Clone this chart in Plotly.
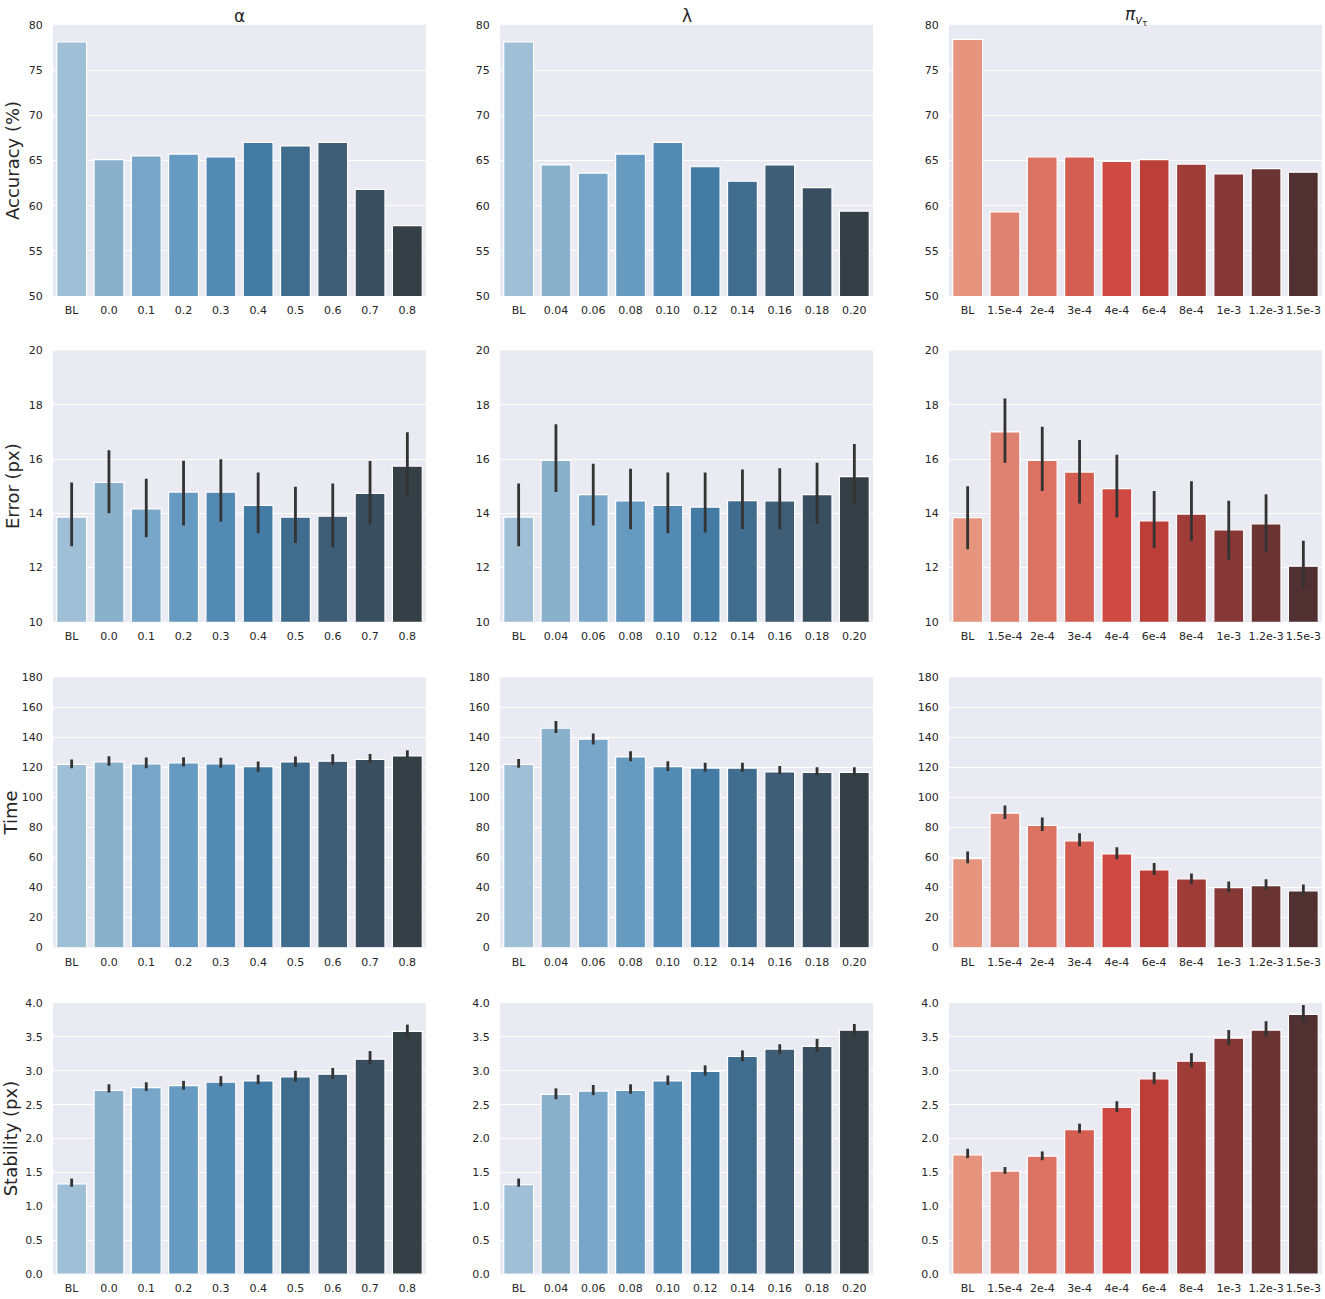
import plotly.graph_objects as go
from plotly.subplots import make_subplots

# ---------------- data ----------------
cats_alpha = ["BL", "0.0", "0.1", "0.2", "0.3", "0.4", "0.5", "0.6", "0.7", "0.8"]
cats_lambda = ["BL", "0.04", "0.06", "0.08", "0.10", "0.12", "0.14", "0.16", "0.18", "0.20"]
cats_pi = ["BL", "1.5e-4", "2e-4", "3e-4", "4e-4", "6e-4", "8e-4", "1e-3", "1.2e-3", "1.5e-3"]

col_titles = ["α", "λ", "<i>π</i><sub><i>v</i><sub>τ</sub></sub>"]
row_titles = ["Accuracy (%)", "Error (px)", "Time", "Stability (px)"]

# Accuracy (no error bars)
acc_alpha = [78.1, 65.1, 65.5, 65.7, 65.4, 67.0, 66.6, 67.0, 61.8, 57.8]
acc_lambda = [78.1, 64.5, 63.6, 65.7, 67.0, 64.3, 62.7, 64.5, 62.0, 59.4]
acc_pi = [78.4, 59.3, 65.4, 65.4, 64.9, 65.1, 64.6, 63.5, 64.1, 63.7]

# Error (px): mean, CI upper, CI lower
err_alpha = [13.86, 15.14, 14.16, 14.78, 14.78, 14.29, 13.86, 13.89, 14.73, 15.74]
err_alpha_hi = [15.13, 16.32, 15.27, 15.94, 15.99, 15.50, 14.98, 15.10, 15.93, 16.99]
err_alpha_lo = [12.78, 14.00, 13.12, 13.55, 13.69, 13.26, 12.90, 12.75, 13.59, 14.62]

err_lambda = [13.86, 15.95, 14.69, 14.46, 14.29, 14.23, 14.47, 14.46, 14.69, 15.35]
err_lambda_hi = [15.10, 17.28, 15.83, 15.64, 15.50, 15.50, 15.61, 15.66, 15.86, 16.55]
err_lambda_lo = [12.78, 14.78, 13.55, 13.41, 13.26, 13.29, 13.42, 13.41, 13.61, 14.31]

err_pi = [13.84, 17.00, 15.95, 15.52, 14.91, 13.72, 13.97, 13.39, 13.61, 12.05]
err_pi_hi = [15.00, 18.23, 17.19, 16.70, 16.16, 14.82, 15.18, 14.46, 14.70, 12.99]
err_pi_lo = [12.67, 15.86, 14.82, 14.36, 13.84, 12.73, 12.99, 12.30, 12.56, 11.24]

# Time
time_alpha = [121.9, 123.6, 122.3, 123.0, 122.3, 120.4, 123.6, 124.1, 125.2, 127.6]
time_alpha_hi = [125.2, 127.4, 126.5, 126.7, 126.3, 123.9, 127.2, 128.7, 128.9, 131.3]
time_alpha_lo = [119.3, 121.0, 119.3, 120.6, 119.7, 117.0, 120.4, 121.5, 122.8, 126.5]

time_lambda = [121.9, 146.0, 138.8, 126.9, 120.4, 119.5, 119.5, 116.9, 116.6, 116.6]
time_lambda_hi = [125.6, 150.8, 142.5, 130.7, 124.1, 123.0, 123.0, 120.8, 120.1, 120.1]
time_lambda_lo = [119.7, 142.9, 135.2, 124.1, 117.5, 117.1, 117.1, 115.3, 114.5, 114.5]

time_pi = [59.2, 89.5, 81.3, 71.0, 62.3, 51.7, 45.6, 39.9, 41.2, 37.7]
time_pi_hi = [64.0, 94.5, 86.6, 76.1, 66.7, 56.3, 49.3, 43.9, 45.4, 41.9]
time_pi_lo = [56.1, 85.5, 77.6, 67.5, 58.8, 48.2, 42.1, 36.8, 38.3, 34.4]

# Stability (px)
stab_alpha = [1.33, 2.71, 2.75, 2.78, 2.83, 2.85, 2.91, 2.95, 3.17, 3.58]
stab_alpha_hi = [1.41, 2.80, 2.83, 2.85, 2.92, 2.94, 3.00, 3.04, 3.29, 3.68]
stab_alpha_lo = [1.29, 2.68, 2.70, 2.72, 2.77, 2.80, 2.84, 2.88, 3.10, 3.49]

stab_lambda = [1.32, 2.65, 2.70, 2.71, 2.85, 2.99, 3.21, 3.32, 3.36, 3.60]
stab_lambda_hi = [1.41, 2.74, 2.79, 2.80, 2.93, 3.08, 3.30, 3.39, 3.47, 3.69]
stab_lambda_lo = [1.29, 2.58, 2.64, 2.66, 2.79, 2.93, 3.14, 3.25, 3.28, 3.51]

stab_pi = [1.76, 1.52, 1.74, 2.13, 2.46, 2.88, 3.14, 3.48, 3.60, 3.83]
stab_pi_hi = [1.85, 1.58, 1.81, 2.22, 2.55, 2.98, 3.26, 3.60, 3.73, 3.97]
stab_pi_lo = [1.71, 1.48, 1.68, 2.08, 2.39, 2.80, 3.05, 3.38, 3.50, 3.72]

# ---------------- styles ----------------
blues = ["#9fbfd6", "#8ab1cc", "#78a6c8", "#669ac0", "#538bb5",
         "#447ba5", "#406c8e", "#3f5e76", "#394e5f", "#343f46"]
reds = ["#e6947e", "#e08271", "#dc7262", "#d55e53", "#ce4a43",
        "#bb3f38", "#a03c38", "#853835", "#6a3433", "#503030"]

W, H = 1325, 1299
col_px = [(53, 426), (500, 873), (949, 1322)]
row_px = [(19, 293), (348, 622), (678, 951), (1007, 1281)]

y_ranges = [(50, 80), (10, 20), (0, 180), (0, 4)]
y_dticks = [5, 2, 20, 0.5]
y_formats = ["d", "d", "d", ".1f"]

cats = [cats_alpha, cats_lambda, cats_pi]
palettes = [blues, blues, reds]

grid = [
    [(acc_alpha, None, None), (acc_lambda, None, None), (acc_pi, None, None)],
    [(err_alpha, err_alpha_hi, err_alpha_lo), (err_lambda, err_lambda_hi, err_lambda_lo),
     (err_pi, err_pi_hi, err_pi_lo)],
    [(time_alpha, time_alpha_hi, time_alpha_lo), (time_lambda, time_lambda_hi, time_lambda_lo),
     (time_pi, time_pi_hi, time_pi_lo)],
    [(stab_alpha, stab_alpha_hi, stab_alpha_lo), (stab_lambda, stab_lambda_hi, stab_lambda_lo),
     (stab_pi, stab_pi_hi, stab_pi_lo)],
]

FONT = "DejaVu Sans"
TICK_COLOR = "#262626"
ERR_COLOR = "#333333"

fig = make_subplots(rows=4, cols=3)

for r in range(4):
    for c in range(3):
        vals, hi, lo = grid[r][c]
        kw = {}
        if hi is not None:
            kw["error_y"] = dict(
                type="data", symmetric=False,
                array=[h - v for h, v in zip(hi, vals)],
                arrayminus=[v - l for v, l in zip(vals, lo)],
                color=ERR_COLOR, thickness=2.8, width=0,
            )
        fig.add_trace(
            go.Bar(
                x=cats[c], y=vals,
                marker=dict(color=palettes[c], line=dict(color="white", width=1.2)),
                showlegend=False, **kw,
            ),
            row=r + 1, col=c + 1,
        )

        idx = r * 3 + c + 1
        xa = "xaxis" if idx == 1 else f"xaxis{idx}"
        ya = "yaxis" if idx == 1 else f"yaxis{idx}"
        x0, x1 = col_px[c]
        y0, y1 = row_px[r]
        fig.layout[xa].update(
            domain=[x0 / W, x1 / W], type="category", range=[-0.5, 9.5],
            showgrid=False, zeroline=False, showline=False,
            ticks="outside", ticklen=4, tickcolor="rgba(0,0,0,0)",
            tickfont=dict(family=FONT, size=11, color=TICK_COLOR),
            tickangle=0, fixedrange=True,
        )
        fig.layout[ya].update(
            domain=[1 - y1 / H, 1 - y0 / H], range=list(y_ranges[r]),
            dtick=y_dticks[r], tick0=0, tickformat=y_formats[r],
            showgrid=True, gridcolor="white", gridwidth=1.2,
            zeroline=False, showline=False,
            ticks="outside", ticklen=7, tickcolor="rgba(0,0,0,0)",
            tickfont=dict(family=FONT, size=11, color=TICK_COLOR),
            fixedrange=True,
        )
        if c == 0:
            fig.layout[ya].update(
                title=dict(text=row_titles[r],
                           font=dict(family=FONT, size=18, color=TICK_COLOR),
                           standoff=4),
            )

for c in range(3):
    x0, x1 = col_px[c]
    fig.add_annotation(
        text=col_titles[c], xref="paper", yref="paper",
        x=(x0 + x1) / 2 / W, y=1 - 10 / H, xanchor="center", yanchor="middle",
        showarrow=False, font=dict(family=FONT, size=17, color=TICK_COLOR),
    )

fig.update_layout(
    width=W, height=H,
    margin=dict(l=0, r=0, t=0, b=0),
    paper_bgcolor="white", plot_bgcolor="#EAEAF2",
    bargap=0.2,
    font=dict(family=FONT, color=TICK_COLOR),
)

fig.write_html(
    "out.html",
    config={"displayModeBar": False},
    post_script="document.body.style.margin='0';document.body.style.overflow='hidden';",
)
